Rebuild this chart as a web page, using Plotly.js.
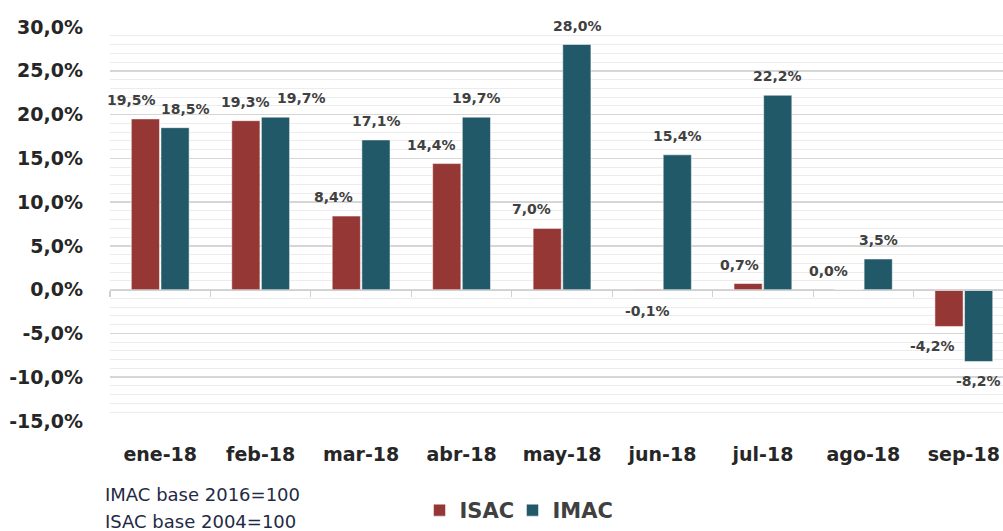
<!DOCTYPE html>
<html>
<head>
<meta charset="utf-8">
<script src="https://cdn.plot.ly/plotly-3.0.1.min.js"></script>
<style>html,body{margin:0;padding:0;background:#fff;}#chart{width:1003px;height:531px;}</style>
</head>
<body>
<div id="chart"></div>
<script>
// ---- data ----
const categories = ['ene-18','feb-18','mar-18','abr-18','may-18','jun-18','jul-18','ago-18','sep-18'];
const isacValues = [19.5, 19.3, 8.4, 14.4, 7.0, -0.1, 0.7, 0.0, -4.2];
const imacValues = [18.5, 19.7, 17.1, 19.7, 28.0, 15.4, 22.2, 3.5, -8.2];
const yTickValues = [-15, -10, -5, 0, 5, 10, 15, 20, 25, 30];
const notes = ['IMAC base 2016=100', 'ISAC base 2004=100'];

// ---- label nudges (layout only, px) ----
const isacLabelNudge = [-14, 0, -13, -15, -16, 0, -8, -20, -16];
const imacLabelNudge = [10, 26, 0, 0, 0, 0, 0, 0, 0];

const FONT = '"DejaVu Sans", sans-serif';
const fmt = v => v.toFixed(1).replace('.', ',') + '%';

const traces = [
  {type:'bar', name:'ISAC', x:categories, y:isacValues, legend:'legend',
   marker:{color:'#953735', line:{color:'#ffffff', width:0.5}}, hoverinfo:'skip'},
  {type:'bar', name:'IMAC', x:categories, y:imacValues, legend:'legend2',
   marker:{color:'#215968', line:{color:'#ffffff', width:0.5}}, hoverinfo:'skip'},
  {type:'scatter', mode:'markers', x:categories, y:categories.map(()=>null),
   xaxis:'x2', yaxis:'y', showlegend:false, hoverinfo:'skip', marker:{opacity:0}}
];

const annotations = [];
const BAR_OFF = 15;
function addLabels(vals, sign, nudge){
  vals.forEach((v,i)=>{
    annotations.push({
      xref:'x', yref:'y', x:categories[i], y:v, text:fmt(v), showarrow:false,
      xanchor:'center', yanchor:'middle',
      xshift: sign*BAR_OFF + nudge[i], yshift: v < 0 ? -20 : 19,
      font:{family:FONT, size:14, color:'#404040', weight:700}
    });
  });
}
addLabels(isacValues, -1, isacLabelNudge);
addLabels(imacValues, 1, imacLabelNudge);
notes.forEach((t,i)=>{
  annotations.push({xref:'paper', yref:'paper', x:-0.008, y:-0.186 - i*0.07, text:t,
    showarrow:false, xanchor:'left', yanchor:'middle',
    font:{family:FONT, size:18, color:'#1f2a44'}});
});

const legendBase = {orientation:'h', xanchor:'left', y:-0.228, yanchor:'middle',
  font:{family:FONT, size:21, color:'#404040', weight:700}, bgcolor:'rgba(0,0,0,0)'};

const layout = {
  width:1003, height:531,
  margin:{l:110, r:0, t:27, b:110},
  paper_bgcolor:'#ffffff', plot_bgcolor:'#ffffff',
  barmode:'group', bargap:0.41, bargroupgap:0.05,
  showlegend:true,
  legend:Object.assign({}, legendBase, {x:0.3466}),
  legend2:Object.assign({}, legendBase, {x:0.4507}),
  xaxis:{type:'category', categoryorder:'array', categoryarray:categories,
    range:[-0.5, 8.39], showgrid:false, zeroline:false, showline:false,
    ticks:'outside', ticklen:16, tickcolor:'rgba(0,0,0,0)',
    tickfont:{family:FONT, size:19, color:'#262626', weight:700}, fixedrange:true},
  xaxis2:{type:'category', categoryorder:'array', categoryarray:categories,
    overlaying:'x', anchor:'free', position:1/3, range:[-0.5, 8.39],
    showgrid:false, zeroline:false, showline:true, linecolor:'#d0d0d0', linewidth:1.5,
    ticks:'outside', tickson:'boundaries', ticklen:6, tickcolor:'#d0d0d0', tickwidth:1.2,
    showticklabels:false, fixedrange:true},
  yaxis:{range:[-15, 30], tickmode:'array', tickvals:yTickValues,
    ticktext:yTickValues.map(fmt),
    showgrid:true, gridcolor:'#d6d6d6', gridwidth:1.5, zeroline:false, showline:false,
    minor:{dtick:1, showgrid:true, gridcolor:'#ececec', gridwidth:1, ticks:''},
    ticks:'', ticklabelstandoff:26,
    tickfont:{family:FONT, size:19, color:'#262626', weight:700}, fixedrange:true},
  annotations: annotations
};

Plotly.newPlot('chart', traces, layout, {displayModeBar:false, staticPlot:true});
</script>
</body>
</html>
